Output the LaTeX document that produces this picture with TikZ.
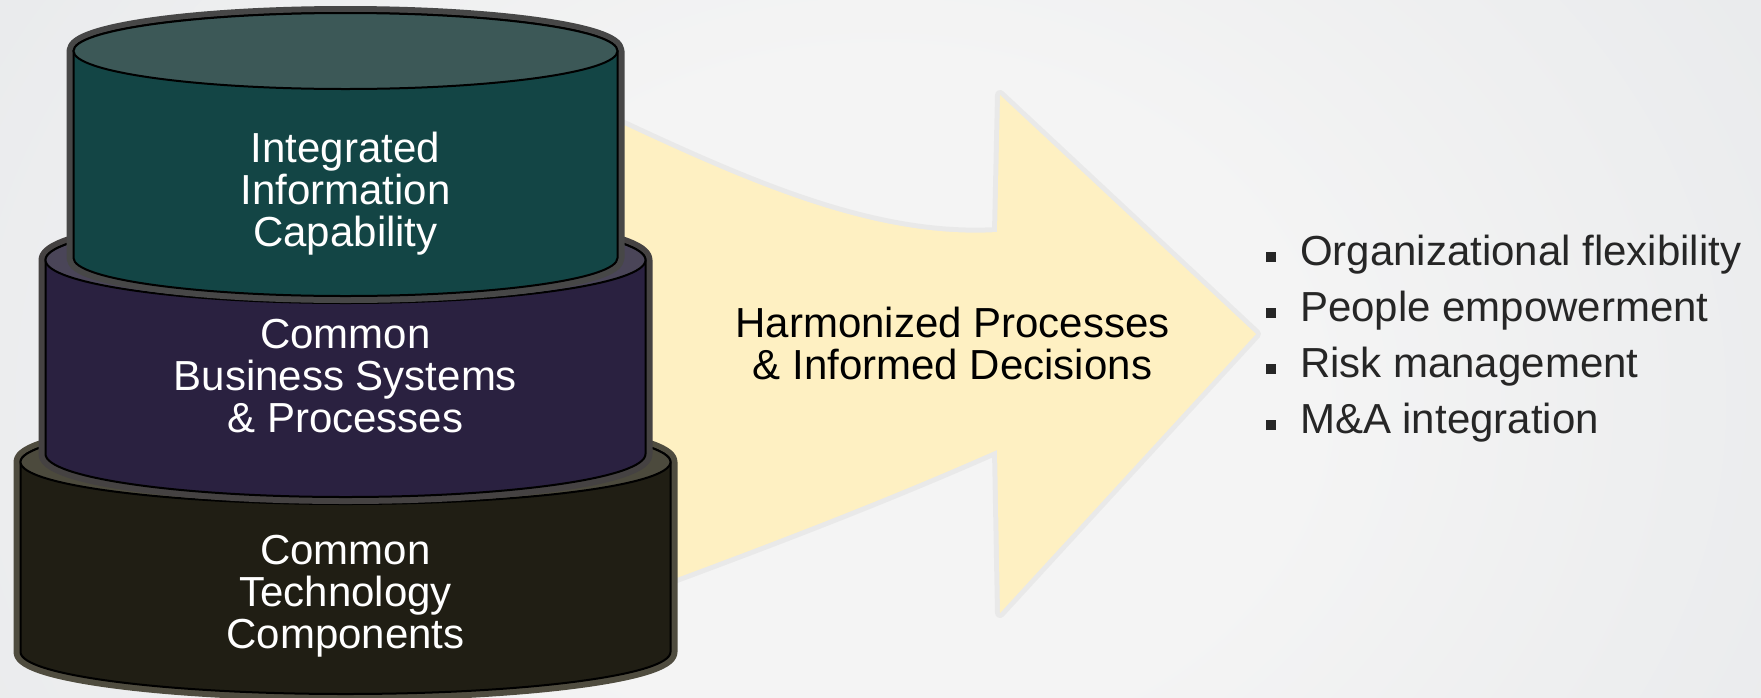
\documentclass[tikz,border=0pt]{standalone}
\usepackage{fontspec}
\setmainfont{Liberation Sans}

\definecolor{bgin}{HTML}{F4F4F4}
\definecolor{bgout}{HTML}{D6DADF}
\definecolor{arrowfill}{HTML}{FEF0C2}
\definecolor{tealbody}{HTML}{134545}
\definecolor{tealtop}{HTML}{3C5857}
\definecolor{tealrim}{HTML}{474747}
\definecolor{plumbody}{HTML}{2A2140}
\definecolor{plumtop}{HTML}{4A4558}
\definecolor{plumrim}{HTML}{454242}
\definecolor{olivebody}{HTML}{201E14}
\definecolor{olivetop}{HTML}{4C4A3D}
\definecolor{oliverim}{HTML}{4F4C3F}
\definecolor{listgray}{HTML}{262626}

\pgfdeclareradialshading{backdrop}{\pgfpoint{0bp}{0bp}}{color(0bp)=(bgin); color(12bp)=(bgin); color(60bp)=(bgout); color(80bp)=(bgout)}

% one tier of the stack: cx, rx, ry, y of top face, y of bottom rim, body, top face, rim colour
\newcommand\stacktier[8]{%
  \path[draw=#8, line width=7pt, line join=round]
    (#1-#2,#4) -- (#1-#2,#5) arc[start angle=180,end angle=0,x radius=#2,y radius=#3]
    -- (#1+#2,#4) arc[start angle=0,end angle=-180,x radius=#2,y radius=#3] -- cycle;
  \path[fill=#6, draw=black, line width=1pt]
    (#1-#2,#4) -- (#1-#2,#5) arc[start angle=180,end angle=0,x radius=#2,y radius=#3]
    -- (#1+#2,#4) arc[start angle=0,end angle=-180,x radius=#2,y radius=#3] -- cycle;
  \path[fill=#7, draw=black, line width=1pt] (#1,#4) ellipse[x radius=#2, y radius=#3];
}
\newcommand\sqbullet{\textcolor{listgray}{\raisebox{1.5pt}{\rule{5pt}{5pt}}}\hspace{11.8pt}}

% multi-line nodes are placed by the baseline of their last line
\tikzset{
  tiertext/.style={text=white, align=center, inner sep=0pt, anchor=base,
    font=\fontsize{21pt}{21pt}\selectfont},
  arrowtext/.style={text=black, align=center, inner sep=0pt, anchor=base,
    font=\fontsize{21pt}{21pt}\selectfont},
  listtext/.style={text=listgray, align=left, inner sep=0pt, anchor=base west,
    font=\fontsize{21pt}{28pt}\selectfont},
}

\begin{document}
\begin{tikzpicture}[x=0.5pt, y=-0.5pt]
  \useasboundingbox (0,0) rectangle (1761,697);
  \begin{scope}
    \clip (0,0) rectangle (1761,697);
    \shade[shading=backdrop] (0,-300) rectangle (1761,1100);
  \end{scope}

  % broad arrow running behind the stack, with a soft halo
  \path[draw=black!60, draw opacity=0.07, line width=5pt, line join=round]
    (560,95) .. controls (720,170) and (860,240) .. (997,232) -- (1000,95) -- (1256,334)
    -- (1000,613) -- (997,450) .. controls (850,515) and (700,570) .. (480,650) -- cycle;
  \fill[arrowfill]
    (560,95) .. controls (720,170) and (860,240) .. (997,232) -- (1000,95) -- (1256,334)
    -- (1000,613) -- (997,450) .. controls (850,515) and (700,570) .. (480,650) -- cycle;

  % stacked cylinders, bottom first
  \stacktier{345.5}{325}{42}{462}{652}{olivebody}{olivetop}{oliverim}
  \stacktier{345.5}{300}{43}{260}{454}{plumbody}{plumtop}{plumrim}
  \stacktier{345.5}{272}{38}{51}{258}{tealbody}{tealtop}{tealrim}

  \node[tiertext] (info) at (345.5,246.7) {Integrated\\Information\\Capability};
  \node[tiertext] (business) at (345.5,432.7) {Common\\Business Systems\\\& Processes};
  \node[tiertext] (tech) at (345.5,648.3) {Common\\Technology\\Components};

  \node[arrowtext] (harmonized) at (952.5,379.3) {Harmonized Processes\\\& Informed Decisions};

  \node[listtext] (benefits) at (1266,433)
    {\sqbullet Organizational flexibility\\\sqbullet People empowerment\\\sqbullet Risk management\\\sqbullet M\&A integration};
\end{tikzpicture}
\end{document}
